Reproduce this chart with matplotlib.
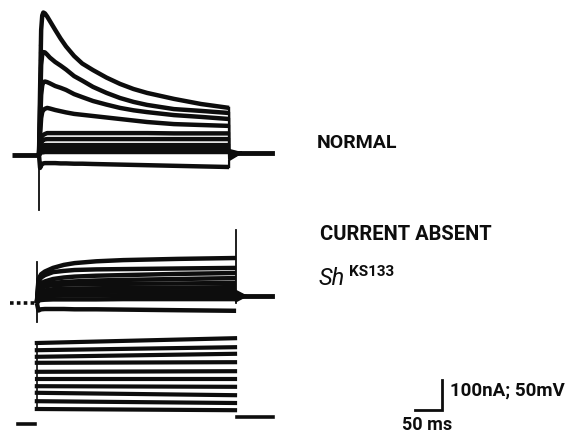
import matplotlib
matplotlib.use("Agg")
import matplotlib.pyplot as plt
import numpy as np

# ---- recording data (time in ms from pulse onset) ----
# Normal A-current family (nA), sampled along each sweep
t_norm = [0, 2, 4, 6, 8, 11, 15, 20, 30, 40, 50, 65, 80, 100, 125, 150, 175, 200, 250, 300, 352]
i_norm = [
    [0, 217, 417, 465, 475, 472, 462, 447, 417, 388, 362, 330, 305, 283, 258, 237, 220, 207, 187, 170, 157],
    [0, 150, 300, 335, 343, 342, 335, 325, 310, 298, 285, 263, 248, 227, 207, 190, 177, 167, 153, 147, 140],
    [0, 100, 200, 232, 243, 245, 243, 239, 230, 224, 217, 203, 193, 180, 168, 157, 149, 143, 133, 127, 120],
    [0, 67, 123, 143, 150, 154, 157, 155, 150, 146, 142, 137, 134, 130, 125, 120, 115, 110, 103, 100, 97],
    [0, 33, 57, 64, 67, 70, 73, 73, 73, 73, 73, 73, 73, 73, 73, 73, 73, 73, 72, 72, 72],
    [0, 23, 40, 46, 50, 52, 53, 53, 53, 53, 53, 53, 53, 53, 53, 53, 53, 53, 53, 53, 53],
    [0, 15, 27, 30, 32, 33, 33, 33, 33, 33, 33, 33, 33, 33, 33, 33, 33, 33, 33, 33, 33],
    [0, 10, 16, 18, 19, 20, 20, 20, 20, 20, 20, 20, 20, 20, 20, 20, 20, 20, 20, 20, 20],
    [0, 5, 8, 9, 9, 10, 10, 10, 10, 10, 10, 10, 10, 10, 10, 10, 10, 10, 10, 10, 10],
    [0, -43, -35, -30, -28, -27, -27, -27, -27, -28, -28, -29, -29, -30, -31, -32, -33, -34, -36, -38, -40],
]
tail_norm = [17, 13, 9, 5, 2, -2, -5, -9, -13, -17]

# Sh KS133 (A-current absent) family (nA)
t_sh = [0, 3, 8, 15, 30, 50, 70, 110, 160, 260, 369]
i_sh = [
    [0, 80, 96, 105, 117, 127, 133, 139, 143, 147, 150],
    [0, 70, 85, 93, 103, 107, 110, 112, 113, 115, 117],
    [0, 55, 66, 72, 80, 85, 88, 91, 93, 97, 100],
    [0, 45, 55, 60, 67, 70, 72, 75, 77, 80, 83],
    [0, 40, 50, 55, 60, 61, 62, 63, 64, 65, 67],
    [0, 32, 38, 42, 46, 47, 48, 49, 50, 51, 53],
    [0, 25, 29, 32, 35, 36, 37, 37, 38, 39, 40],
    [0, 15, 20, 22, 24, 25, 25, 25, 26, 26, 27],
    [0, 8, 10, 11, 12, 12, 12, 12, 13, 13, 13],
    [0, -25, -21, -20, -20, -20, -21, -21, -22, -24, -26],
]
tail_sh = [40, 35, 30, 27, 24, 21, 18, 14, 10, 6]

# command voltage steps (mV), level at step start and step end
v_hold = -80
v_hold_after = -68
v_start = [55, 43, 32, 22, 7, -5, -17, -28, -42, -55]
v_end = [63, 48, 37, 23, 8, -5, -18, -32, -45, -57]

# onset / offset timing of each panel (ms)
norm_on, norm_off = 0, 352
sh_on, sh_off = -4, 365
cmd_on, cmd_off = -4, 363

# capacitive transients (nA)
cap_norm = (-183, 383)
cap_sh_on = (-63, 137)
cap_sh_off = 243
post_norm = 7
post_sh = 23

# ---- figure layout: one shared time scale, separate current / voltage scales ----
W, H = 570, 444
ms_per_px = 50 / 27
na_per_px = 100 / 30
mv_per_px = 50 / 30
x_zero = 39

fig = plt.figure(figsize=(W / 100, H / 100), dpi=100)
fig.patch.set_facecolor("white")

def panel(zero_row, per_px, zero_val=0.0):
    ax = fig.add_axes([0, 0, 1, 1])
    ax.patch.set_alpha(0)
    ax.set_xlim(-x_zero * ms_per_px, (W - x_zero) * ms_per_px)
    ax.set_ylim(zero_val - (H - zero_row) * per_px, zero_val + zero_row * per_px)
    ax.set_axis_off()
    return ax

ax_norm = panel(155, na_per_px)
ax_sh = panel(303, na_per_px)
ax_cmd = panel(424, mv_per_px, v_hold)

ink = "#0d0d0d"
lw = 3.2

# NORMAL currents
ax_norm.plot([-50, norm_on], [0, 0], color=ink, lw=3.5, solid_capstyle="butt")
ax_norm.plot([norm_on, norm_on], [0, cap_norm[0]], color=ink, lw=1.3)
ax_norm.plot([norm_on, norm_on], [40, cap_norm[1]], color="#555555", lw=0.9, ls=(0, (1, 5)))
for trace, tail in zip(i_norm, tail_norm):
    t = np.array(t_norm) + norm_on
    ax_norm.plot(t, trace, color=ink, lw=lw, solid_joinstyle="round", solid_capstyle="butt")
    ax_norm.plot([norm_off, norm_off, norm_off + 22], [trace[-1], tail, post_norm],
                 color=ink, lw=1.6)
ax_norm.plot([norm_off + 15, 431], [post_norm, post_norm], color=ink, lw=3.5)

# Sh KS133 currents
ax_sh.plot([-54, sh_on], [0, 0], color=ink, lw=2.6, ls=(0, (1.0, 0.9)))
ax_sh.plot([sh_on, sh_on], list(cap_sh_on), color=ink, lw=1.3)
for trace, tail in zip(i_sh, tail_sh):
    t = np.array(t_sh) + sh_on
    ax_sh.plot(t, trace, color=ink, lw=lw, solid_joinstyle="round", solid_capstyle="butt")
    ax_sh.plot([sh_off, sh_off + 18], [tail, post_sh], color=ink, lw=1.6)
ax_sh.plot([sh_off, sh_off], [0, cap_sh_off], color=ink, lw=1.3)
ax_sh.plot([sh_off + 10, 431], [post_sh, post_sh], color=ink, lw=3.5)

# voltage commands
ax_cmd.plot([-39, -7], [v_hold, v_hold], color=ink, lw=2.6)
ax_cmd.plot([cmd_off + 4, 433], [v_hold_after, v_hold_after], color=ink, lw=2.6)
for v0, v1 in zip(v_start, v_end):
    ax_cmd.plot([cmd_on, cmd_off], [v0, v1], color=ink, lw=3.0)
ax_cmd.plot([cmd_on, cmd_on], [min(v_start), max(v_start)], color=ink, lw=1.2)

# scale bar: 50 ms, 100 nA / 50 mV
sb_x, sb_y = 696, -57
ax_cmd.plot([sb_x, sb_x + 50, sb_x + 50], [sb_y, sb_y, sb_y + 50],
            color=ink, lw=2.0, solid_joinstyle="miter")

# labels
fam = ["Roboto", "DejaVu Sans"]
fig.text(317 / W, 1 - 148 / H, "NORMAL", family=fam, weight="bold",
         fontsize=14, color=ink, va="baseline")
fig.text(320 / W, 1 - 240 / H, "CURRENT ABSENT", family=fam, weight="bold",
         fontsize=14.5, color=ink, va="baseline")
fig.text(319 / W, 1 - 285 / H, "Sh", family=fam, style="italic",
         fontsize=17, color=ink, va="baseline")
fig.text(349 / W, 1 - 276 / H, "KS133", family=fam, weight="bold",
         fontsize=11, color=ink, va="baseline")
fig.text(450 / W, 1 - 396 / H, "100nA; 50mV", family=fam, weight="bold",
         fontsize=13.5, color=ink, va="baseline")
fig.text(402 / W, 1 - 430 / H, "50 ms", family=fam, weight="bold",
         fontsize=13, color=ink, va="baseline")

fig.savefig("out.png", dpi=100, facecolor="white")
